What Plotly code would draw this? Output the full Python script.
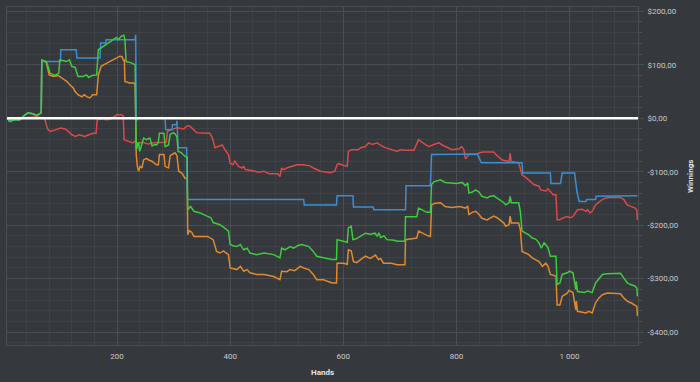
import plotly.graph_objects as go

# ---- data: (hands, winnings $) ----
green = [(5.5,0),(8,-2),(10,-6),(14,-4),(19,-3),(28,-3),(33,2),(37,6),(43,10),(52,8),(58,5),(64,10),(66,10),
         (67,109),(75,106),(82,84),(90,80),(97,84),(99,109),(111,106),(116,109),(120,97),(126,95),(131,78),
         (140,78),(146,81),(150,76),(156,80),(164,81),(167,128),(175,134),(182,140),(190,146),(199,151),
         (203,147),(207,153),(212,155),(214,147),(216,106),(224,104),(232,100),(234,-59),(238,-45),(240,-62),
         (242,-55),(247,-37),(252,-40),(258,-37),(262,-52),(266,-49),(270,-50),(273,-45),(275,-28),(283,-28),
         (285,-53),(291,-50),(294,-30),(300,-27),(303,-30),(306,-35),(308,-62),(313,-64),(320,-71),(324,-73),
         (325,-171),(330,-165),(336,-174),(347,-177),(359,-183),(366,-186),(370,-195),(376,-197),(382,-199),
         (390,-205),(397,-211),(400,-236),(406,-239),(412,-240),(418,-236),(424,-246),(430,-243),(435,-252),
         (447,-255),(460,-252),(477,-255),(488,-261),(491,-243),(497,-246),(506,-240),(512,-243),(520,-238),
         (527,-236),(539,-240),(547,-249),(553,-258),(565,-261),(580,-264),(588,-264),(589,-227),(600,-230),
         (607,-232),(609,-205),(614,-202),(617,-227),(622,-226),(630,-221),(639,-215),(648,-217),(656,-215),
         (660,-221),(663,-214),(666,-223),(672,-220),(677,-227),(690,-228),(695,-230),(709,-230),(710,-184),
         (730,-184),(733,-168),(740,-172),(748,-176),(754,-176),(756,-124),(760,-119),(772,-115),(780,-120),
         (800,-122),(810,-120),(816,-126),(820,-121),(822,-140),(828,-138),(834,-134),(840,-138),(845,-146),
         (854,-149),(860,-146),(866,-145),(874,-151),(884,-158),(887,-162),(893,-158),(895,-146),(897,-158),
         (910,-158),(913,-174),(916,-211),(928,-218),(934,-224),(940,-226),(946,-233),(950,-243),(955,-233),
         (962,-242),(966,-258),(976,-258),(978,-311),(983,-308),(987,-292),(996,-289),(1000,-286),(1006,-289),
         (1011,-320),(1012,-305),(1014,-324),(1026,-326),(1032,-323),(1040,-326),(1046,-308),(1052,-299),
         (1058,-292),(1067,-291),(1080,-291),(1090,-290),(1096,-299),(1102,-308),(1108,-311),(1116,-314),
         (1119,-318),(1120,-333)]

orange = [(5.5,0),(8,-2),(10,-6),(14,-4),(19,-3),(28,-3),(33,2),(37,6),(43,10),(52,8),(58,5),(64,10),(66,10),
          (67,109),(75,104),(80,81),(88,78),(96,80),(102,75),(111,69),(117,62),(123,56),(126,50),(131,44),
          (138,40),(142,44),(147,40),(152,38),(157,44),(164,44),(167,81),(172,97),(182,103),(188,106),
          (194,110),(200,113),(205,116),(209,115),(211,109),(213,109),(214,69),(222,66),(230,66),(232,62),
          (234,-68),(236,-90),(238,-99),(241,-90),(244,-93),(247,-78),(252,-75),(256,-78),(261,-80),(266,-84),
          (270,-87),(273,-87),(275,-68),(283,-68),(285,-90),(291,-93),(294,-70),(300,-66),(303,-65),(306,-70),
          (309,-99),(315,-103),(320,-112),(324,-112),(325,-218),(328,-210),(332,-213),(336,-221),(347,-221),
          (360,-221),(370,-227),(376,-249),(382,-252),(388,-248),(397,-255),(400,-280),(412,-283),(418,-277),
          (424,-286),(430,-283),(435,-289),(447,-292),(460,-292),(477,-296),(488,-302),(491,-286),(500,-287),
          (506,-283),(514,-285),(521,-279),(524,-277),(530,-280),(539,-283),(547,-292),(553,-302),(565,-302),
          (571,-305),(580,-308),(588,-308),(589,-271),(600,-271),(607,-273),(609,-246),(614,-248),(618,-268),
          (624,-270),(631,-264),(639,-258),(648,-262),(657,-256),(662,-264),(666,-262),(671,-271),(685,-271),
          (695,-274),(709,-274),(710,-227),(730,-224),(733,-211),(740,-215),(748,-219),(754,-221),(756,-162),
          (762,-159),(772,-158),(780,-165),(792,-167),(806,-165),(816,-168),(820,-164),(822,-180),(828,-176),
          (834,-174),(840,-180),(845,-187),(854,-190),(860,-186),(866,-183),(872,-186),(880,-193),(884,-196),
          (887,-202),(893,-199),(895,-183),(897,-196),(910,-196),(913,-208),(916,-249),(928,-255),(934,-261),
          (940,-264),(946,-268),(952,-277),(958,-271),(962,-277),(966,-292),(976,-295),(978,-349),(983,-349),
          (987,-333),(996,-327),(999,-322),(1006,-326),(1011,-358),(1012,-342),(1014,-361),(1029,-364),
          (1034,-361),(1040,-364),(1046,-345),(1052,-336),(1058,-330),(1067,-327),(1085,-328),(1090,-328),
          (1096,-336),(1102,-342),(1110,-346),(1116,-349),(1119,-352),(1120,-370)]

blue = [(5.5,0),(8,-2),(10,-6),(14,-4),(19,-3),(28,-3),(33,2),(37,6),(43,10),(52,8),(58,5),(64,10),(66,10),
        (67,106),(100,106),(100.5,128),(128,128),(129,112.5),(170,112.5),(171,140.5),(180,140.5),(181,146.7),
        (232,146.7),(233,156),(234,-6),(236,1),(285,1),(286,-21.5),(297,-21.5),(298,-12),(305,-12),(306,-4.7),
        (308,-55),(323,-55),(324.5,-152),(530,-152),(531,-162),(588,-162),(589,-145),(617,-145),(618,-166),
        (653,-166),(654,-171),(710,-171),(711,-126),(754,-126),(756,-68),(837,-67),(844,-83),(916,-83),
        (917,-102.5),(966,-102.5),(967,-122),(984,-122),(987,-102.5),(1009,-102.5),(1013,-137),(1017,-155.5),
        (1029,-155.5),(1030,-152),(1046,-152),(1047,-146),(1120,-145)]

red = [(5.5,0),(10,-3),(20,-2),(30,-1),(45,2),(55,3),(62,2),(72,0),(75,-12),(78,-21.5),(83,-24.6),(92,-21.5),
       (100,-18.4),(108,-20),(114,-24.6),(120,-31),(127,-34),(133,-31),(143,-34),(150,-31),(158,-28),
       (163,-28),(165,-3),(175,-1),(180,-3),(188,-2),(194,3),(200,6.5),(208,6.5),(211,4),(212.5,-40),
       (222,-43),(228,-46),(232,-43),(236,-47),(245,-45),(255,-48),(265,-46),(287,-45),(289,-25),(294,-22),
       (306,-18),(318,-20),(324,-14),(329,-15),(335,-21),(341,-27),(364,-28),(369,-38),(373,-55),(382,-52),
       (386,-50),(391,-59),(397,-68),(400,-84),(405,-87),(408,-80),(412,-87),(415,-90),(421,-93),(424,-90),
       (427,-96),(435,-97),(444,-99),(450,-101),(460,-99),(465,-102),(470,-104),(484,-104),(488,-109),
       (491,-93),(494,-96),(500,-93),(509,-90),(518,-87),(530,-87),(541,-89),(547,-93),(553,-96),(560,-99),
       (577,-102),(585,-99),(589,-87),(592,-85),(600,-88),(607,-90),(609,-62),(614,-59),(626,-59),(631,-55),
       (639,-53),(645,-46),(651,-49),(660,-46),(665,-50),(674,-55),(686,-59),(695,-62),(700,-59),(710,-60),
       (725,-60),(733,-40),(738,-44),(751,-53),(760,-49),(769,-46),(775,-50),(792,-59),(805,-57),(809,-53),
       (813,-58),(816,-76),(822,-68),(834,-68),(840,-65),(846,-63),(866,-63),(870,-68),(881,-78),(893,-81),
       (895,-65),(897,-81),(910,-83),(916,-106),(922,-110),(928,-115),(937,-124),(946,-127),(949,-134),
       (958,-136),(962,-132),(971,-143),(976,-143),(978,-190),(983,-190),(987,-187),(996,-184),(1001,-186),
       (1006,-184),(1014,-171),(1022,-170),(1029,-174),(1032,-171),(1036,-177),(1040,-174),(1043,-168),
       (1046,-162),(1052,-157),(1058,-152),(1064,-149),(1070,-148),(1090,-148),(1096,-152),(1102,-162),
       (1108,-164),(1116,-168),(1119,-172),(1120,-190)]

y_ticks = [200, 100, 0, -100, -200, -300, -400]
y_labels = ["$200,00", "$100,00", "$0,00", "-$100,00", "-$200,00", "-$300,00", "-$400,00"]
x_ticks = [200, 400, 600, 800, 1000]
x_labels = ["200", "400", "600", "800", "1 000"]

BG = "#35383c"
GRID = "#4b4e53"
MINOR = "#3e4146"
FONT = "Roboto"

fig = go.Figure()
for name, series, color in [("red", red, "#d94a4a"), ("orange", orange, "#df8a2e"),
                            ("blue", blue, "#3d8ed0"), ("green", green, "#3ecb3e")]:
    fig.add_trace(go.Scatter(x=[p[0] for p in series], y=[p[1] for p in series], mode="lines",
                             name=name, line=dict(color=color, width=1.5), hoverinfo="skip"))

fig.add_shape(type="line", xref="paper", x0=0, x1=1, yref="y", y0=0, y1=0,
              line=dict(color="#ffffff", width=2.5), layer="above")

fig.update_layout(
    width=700, height=382, showlegend=False,
    paper_bgcolor=BG, plot_bgcolor=BG,
    margin=dict(l=7, r=62, t=7, b=37),
    font=dict(family=FONT, size=8, color="#c9cacc"),
    xaxis=dict(range=[5.5, 1121], tickvals=x_ticks, ticktext=x_labels, showgrid=True, gridcolor=GRID,
               gridwidth=1, zeroline=False, showline=True, mirror=True, linecolor=GRID, ticks="",
               ticklabelstandoff=3,
               minor=dict(dtick=40, tick0=0, showgrid=True, gridcolor=MINOR, gridwidth=1)),
    yaxis=dict(range=[-424, 208], side="right", tickvals=y_ticks, ticktext=y_labels, showgrid=True,
               gridcolor=GRID, gridwidth=1, zeroline=False, showline=True, mirror=True, linecolor=GRID,
               ticks="outside", ticklen=5, tickcolor=GRID, ticklabelstandoff=2,
               minor=dict(dtick=20, tick0=0, showgrid=True, gridcolor=MINOR, ticks="outside",
                          ticklen=3, tickcolor=GRID)),
    annotations=[
        dict(text="<b>Hands</b>", xref="paper", yref="paper", x=0.5, y=-0.082, showarrow=False,
             xanchor="center", yanchor="middle", font=dict(family=FONT, size=8, color="#e4e4e4")),
        dict(text="<b>Winnings</b>", xref="paper", yref="paper", x=1.0824, y=0.5, showarrow=False,
             textangle=-90, xanchor="center", yanchor="middle", font=dict(family=FONT, size=8, color="#e4e4e4")),
    ],
)

fig.write_html("out.html", config={"displayModeBar": False},
               post_script="document.documentElement.style.margin='0';document.body.style.margin='0';"
                           "document.body.style.overflow='hidden';")
